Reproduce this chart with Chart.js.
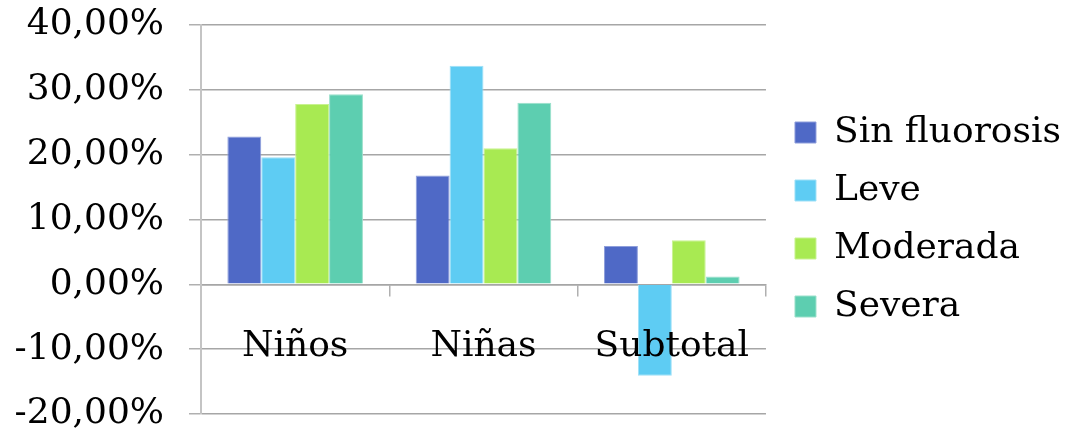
<!DOCTYPE html>
<html>
<head>
<meta charset="utf-8">
<script src="https://cdn.jsdelivr.net/npm/chart.js@4/dist/chart.umd.min.js"></script>
<style>
  html, body { margin: 0; padding: 0; background: #ffffff; }
  #wrap { width: 1067px; height: 434px; position: relative; }
</style>
</head>
<body>
<div id="wrap"><canvas id="c" width="1067" height="434"></canvas></div>
<script>
// Distribution of fluorosis grades by group (percent)
const categories = ['Niños', 'Niñas', 'Subtotal'];
const seriesNames = ['Sin fluorosis', 'Leve', 'Moderada', 'Severa'];
const sinFluorosis = [22.8, 16.8, 5.9];
const leve = [19.6, 33.7, -14.1];
const moderada = [27.8, 21.0, 6.8];
const severa = [29.3, 28.0, 1.2];
const yTickLabels = ['-20,00%', '-10,00%', '0,00%', '10,00%', '20,00%', '30,00%', '40,00%'];

const colors = ['#4F69C6', '#5ECCF3', '#A8EA52', '#5DCEB0'];
const edges = ['#8E9EDB', '#9EE0F7', '#C8F290', '#9BE0CB'];
const values = [sinFluorosis, leve, moderada, severa];

const FONT = { family: '"DejaVu Serif", serif', size: 36 };

new Chart(document.getElementById('c'), {
  type: 'bar',
  data: {
    labels: categories,
    datasets: seriesNames.map((name, i) => ({
      label: name,
      data: values[i],
      backgroundColor: colors[i],
      borderColor: edges[i],
      borderWidth: 1,
      categoryPercentage: 0.72,
      barPercentage: 1.0,
      yAxisID: 'y'
    }))
  },
  options: {
    responsive: false,
    animation: false,
    devicePixelRatio: 1,
    layout: { padding: { top: 25, bottom: 20, left: 0, right: -4 } },
    plugins: {
      tooltip: { enabled: false },
      legend: {
        position: 'right',
        align: 'center',
        maxWidth: 320,
        labels: {
          color: '#000000',
          font: FONT,
          boxWidth: 21,
          boxHeight: 21,
          padding: 22
        }
      }
    },
    scales: {
      x: {
        position: { y: 0 },
        offset: true,
        grid: {
          display: true,
          offset: true,
          drawOnChartArea: false,
          drawTicks: true,
          tickLength: 11,
          color: '#b0b0b0',
          lineWidth: 1.5
        },
        border: { display: true, color: '#a6a6a6', width: 1.5 },
        // category labels sit on top of the bars
        ticks: { color: '#000000', font: FONT, padding: 30, maxRotation: 0, z: 1 }
      },
      y: {
        min: -20,
        max: 40,
        ticks: {
          stepSize: 10,
          color: '#000000',
          font: FONT,
          padding: 25,
          callback: (v, i) => yTickLabels[i]
        },
        grid: {
          color: '#a6a6a6',
          lineWidth: 1.5,
          tickLength: 12,
          tickColor: '#b0b0b0'
        },
        border: { display: true, color: '#c4c4c4', width: 2 },
        afterFit: (s) => { s.width = 201; s.paddingTop = 0; s.paddingBottom = 0; }
      },
      yPad: {
        position: 'right',
        display: true,
        grid: { display: false },
        border: { display: false },
        ticks: { display: false },
        afterFit: (s) => { s.width = 7; s.paddingTop = 0; s.paddingBottom = 0; }
      }
    }
  }
});
</script>
</body>
</html>
